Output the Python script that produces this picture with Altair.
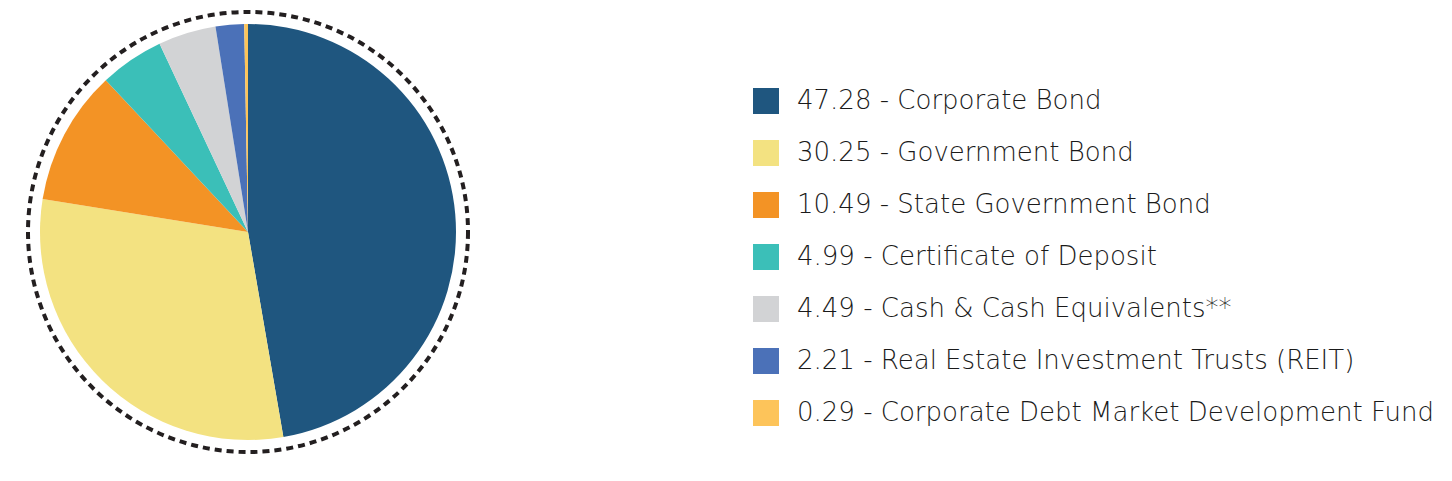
import altair as alt
import pandas as pd

names = ["Corporate Bond", "Government Bond", "State Government Bond",
         "Certificate of Deposit", "Cash & Cash Equivalents**",
         "Real Estate Investment Trusts (REIT)", "Corporate Debt Market Development Fund"]
values = [47.28, 30.25, 10.49, 4.99, 4.49, 2.21, 0.29]
colors = ["#1f567f", "#f3e281", "#f39325", "#3bbfb8", "#d2d3d5", "#4b71b8", "#fdc45a"]

labels = [f"{v:.2f} - {n}" for v, n in zip(values, names)]
df = pd.DataFrame({"label": labels, "value": values, "order": list(range(len(values)))})

cx, cy = 240, 224

pie = alt.Chart(df).mark_arc(outerRadius=208, x=cx, y=cy).encode(
    theta=alt.Theta("value:Q", stack=True),
    order=alt.Order("order:Q"),
    color=alt.Color(
        "label:N",
        scale=alt.Scale(domain=labels, range=colors),
        sort=labels,
        legend=alt.Legend(
            title=None, orient="none", legendX=745, legendY=80, padding=0,
            symbolType="square", symbolSize=676, symbolStrokeWidth=0,
            symbolOpacity=1,
            labelFont="DejaVu Sans", labelFontSize=26, labelFontWeight=200,
            labelColor="#1a1a1a", labelOffset=18, rowPadding=26,
            labelLimit=800,
        ),
    ),
)

ring = alt.Chart(pd.DataFrame({"r": [1]})).mark_point(
    shape="circle", filled=False, stroke="#231f20", strokeWidth=4,
    strokeDash=[7, 5], size=440 * 440, opacity=1,
).encode(x=alt.value(cx), y=alt.value(cy))

chart = alt.layer(ring, pie).properties(
    width=1436, height=465, padding=0,
    autosize=alt.AutoSizeParams(type="none"),
).configure(background="white").configure_view(stroke=None)

chart.save("out.html", embed_options={"renderer": "svg", "actions": False})
